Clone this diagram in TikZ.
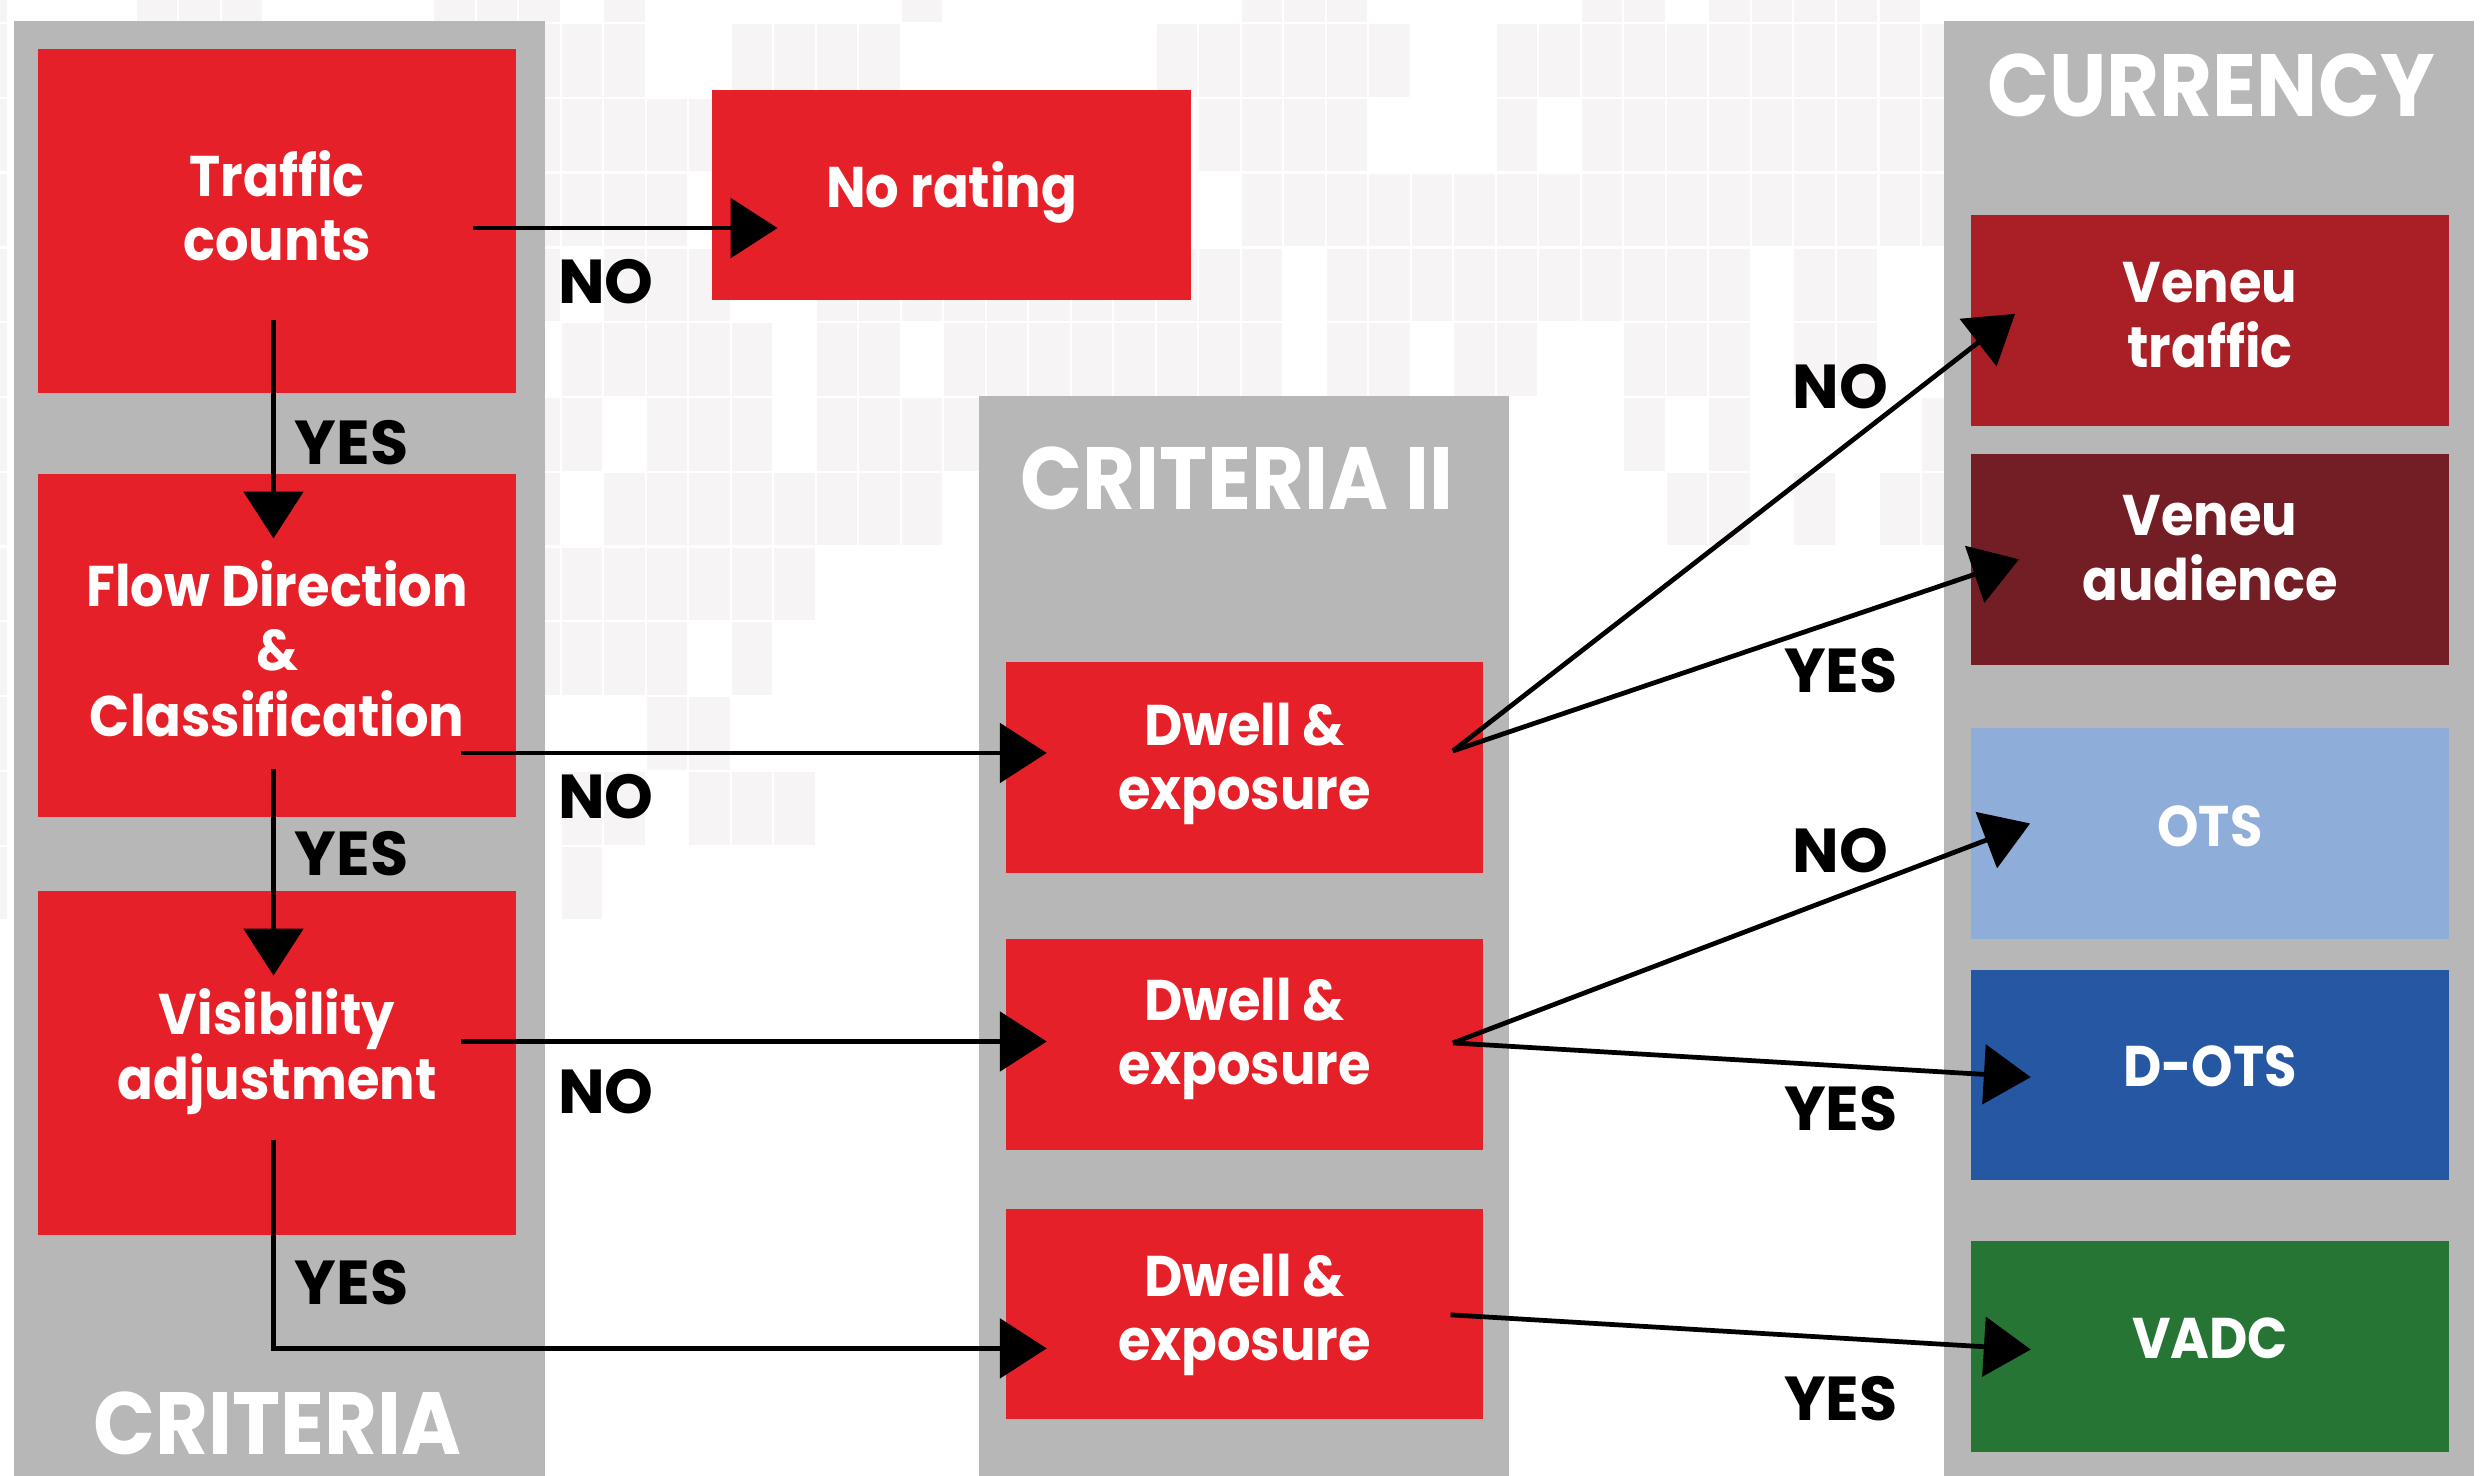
\documentclass[tikz,border=0pt]{standalone}
\usepackage{fontspec}
\setmainfont{Poppins}
\newfontfamily\popnarrow{Poppins}[FakeStretch=0.92]
\usetikzlibrary{arrows.meta,calc,fit}
\definecolor{cellgray}{RGB}{246,244,245}
\definecolor{colgray}{RGB}{183,183,183}
\definecolor{boxred}{RGB}{229,32,40}
\definecolor{vtraffic}{RGB}{170,30,38}
\definecolor{vaud}{RGB}{115,29,37}
\definecolor{otsblue}{RGB}{142,173,217}
\definecolor{dotsblue}{RGB}{38,87,162}
\definecolor{vadcgreen}{RGB}{38,117,53}
\newcommand\myboxfont{\popnarrow\fontsize{18.1pt}{20.2pt}\selectfont\bfseries}
\newcommand\mylblfont{\fontsize{19.6pt}{22pt}\selectfont\bfseries}
\newcommand\myttlfont{\popnarrow\fontsize{27.9pt}{32pt}\selectfont\bfseries}
\newcommand\twol[2]{\begin{tabular}[t]{@{}c@{}}#1\\#2\end{tabular}}
\newcommand\threel[3]{\begin{tabular}[t]{@{}c@{}}#1\\#2\\#3\end{tabular}}
\tikzset{
  bx/.style={inner sep=0pt, outer sep=0pt, draw=none, fill=#1},
  txt/.style={inner sep=0pt, anchor=base, text=white, font=\myboxfont},
  lbl/.style={inner sep=0pt, anchor=base, text=black, font=\mylblfont},
  ttl/.style={inner sep=0pt, anchor=base, text=white, font=\myttlfont, text depth=0pt},
  arr/.style={line width=1.5pt, draw=black, -{Triangle[length=14.8pt,width=18.7pt]}},
}
\begin{document}
\begin{tikzpicture}[x=0.5pt,y=-0.5pt]
\useasboundingbox (0,0) rectangle (1568,932);
\fill[white] (0,0) rectangle (1568,932);
% background pixel pattern
\begin{scope}
\clip (0,0) rectangle (1568,932);
\foreach \r/\cs in {
  0/{-1,3,4,5,10,11,12,14,21,29,30,31,37,38,40,41,42,43,44},
  1/{-1,12,13,14,17,18,19,20,27,28,29,30,31,32,35,36,37,38,39,40,41,42,43,44,45},
  2/{-1,12,13,14,15,16,28,29,30,31,35,37,38,39,40,41,42,43,44,45},
  3/{-1,12,13,14,15,29,30,31,32,33,34,35,36,37,38,39,40,41,42,43,44,45},
  4/{-1,12,14,15,16,19,20,21,22,23,24,25,26,27,28,29,31,32,33,34,35,36,37,38,39,40,42,43},
  5/{-1,13,14,15,16,17,19,20,22,23,24,25,26,27,28,29,31,32,34,35,38,39,40,42,43},
  6/{-1,12,13,15,16,17,19,20,21,22,38,40,45},
  7/{-1,12,14,15,16,17,18,19,20,21,39,40,42,44,45},
  8/{-1,12,13,14,15,16,17,18},
  9/{-1,12,13,14,15,17},
  10/{-1,15,16},
  11/{-1,13,14,16,17,18},
  12/{-1,13}}{
  \foreach \c in \cs {
    \fill[cellgray] ({5.2+26.84*\c+0.72},{-32.7+47.23*\r+0.72}) rectangle ++(25.4,45.8);
  }
}
\end{scope}
% columns
\node[bx=colgray, fit={(9.1,13.5) (344,932)}] (colL) {};
\node[bx=colgray, fit={(618.3,250) (953.2,932)}] (colM) {};
\node[bx=colgray, fit={(1227.8,13.5) (1562.4,932)}] (colR) {};
% boxes
\node[bx=boxred, fit={(24.2,31) (325.8,248.1)}] (tc) {};
\node[bx=boxred, fit={(24.2,299.4) (325.8,516.1)}] (fd) {};
\node[bx=boxred, fit={(24.2,562.6) (325.8,779.7)}] (va) {};
\node[bx=boxred, fit={(449.7,57) (751.8,189.7)}] (nr) {};
\node[bx=boxred, fit={(635.5,418) (936.3,551.2)}] (d1) {};
\node[bx=boxred, fit={(635.5,593) (936.3,725.9)}] (d2) {};
\node[bx=boxred, fit={(635.5,763.4) (936.3,896.2)}] (d3) {};
\node[bx=vtraffic, fit={(1244.7,135.9) (1546.5,268.7)}] (vt) {};
\node[bx=vaud, fit={(1244.7,286.7) (1546.5,420)}] (vau) {};
\node[bx=otsblue, fit={(1244.7,459.8) (1546.5,592.7)}] (ots) {};
\node[bx=dotsblue, fit={(1244.7,612.4) (1546.5,745)}] (dots) {};
\node[bx=vadcgreen, fit={(1244.7,783.7) (1546.5,916.9)}] (vadc) {};
% titles
\node[ttl] (tL) at (175.5,918.8) {CRITERIA};
\node[ttl] (tM) at (781.4,321.8) {CRITERIA II};
\node[ttl] (tR) at (1396.3,73.3) {CURRENCY};
% box texts
\node[txt] (tcT) at (175,124) {\twol{Traffic}{counts}};
\node[txt] (fdT) at (175,383.3) {\threel{Flow Direction}{\&}{Classification}};
\node[txt] (vaT) at (175,653.3) {\twol{Visibility}{adjustment}};
\node[txt] (nrT) at (601,131) {No rating};
\node[txt] (d1T) at (785.9,470.7) {\twol{Dwell \&}{exposure}};
\node[txt] (d2T) at (785.9,644.6) {\twol{Dwell \&}{exposure}};
\node[txt] (d3T) at (785.9,819) {\twol{Dwell \&}{exposure}};
\node[txt] (vtT) at (1395.6,191.1) {\twol{Veneu}{traffic}};
\node[txt] (vauT) at (1395.6,338.2) {\twol{Veneu}{audience}};
\node[txt] (otsT) at (1395.6,534.3) {OTS};
\node[txt] (dotsT) at (1395.6,685.8) {D-OTS};
\node[txt] (vadcT) at (1395.6,857.8) {VADC};
% connectors
\draw[arr] ($(tc.center)+(123.6,4.45)$) -- ($(nr.center)+(-109.75,20.65)$);
\draw[arr] ($(tc.center)+(-2.3,62.45)$) -- ($(fd.center)+(-2.3,-67.75)$);
\draw[arr] ($(fd.center)+(116,67.75)$) -- ($(d1.center)+(-124.9,-9.1)$);
\draw[arr] ($(fd.center)+(-2.3,77.95)$) -- ($(va.center)+(-2.3,-55.15)$);
\draw[arr] ($(va.center)+(116,-13.45)$) -- ($(d2.center)+(-124.9,-1.75)$);
\draw[arr] ($(va.center)+(-2.3,48.45)$) |- ($(d3.center)+(-124.9,21.7)$);
\draw[arr] ($(d1.center)+(131.6,-10.4)$) -- ($(vt.center)+(-123.1,-4.1)$);
\draw[arr] ($(d1.center)+(131.6,-10.4)$) -- ($(vau.center)+(-120.6,-0.15)$);
\draw[arr] ($(d2.center)+(131.6,-0.85)$) -- ($(ots.center)+(-113.6,-6.25)$);
\draw[arr] ($(d2.center)+(131.6,-0.85)$) -- ($(dots.center)+(-113.2,1.5)$);
\draw[arr] ($(d3.center)+(130.1,0.5)$) -- ($(vadc.center)+(-113.2,1.9)$);
% labels
\node[lbl] (n1) at (382.7,191.7) {NO};
\node[lbl] (y1) at (222,293.2) {YES};
\node[lbl] (n2) at (382.7,517) {NO};
\node[lbl] (y2) at (222,553) {YES};
\node[lbl] (n3) at (382.7,703) {NO};
\node[lbl] (y3) at (222,824) {YES};
\node[lbl] (n4) at (1162.3,258) {NO};
\node[lbl] (y4) at (1162.5,437) {YES};
\node[lbl] (n5) at (1162.3,550.8) {NO};
\node[lbl] (y5) at (1162.5,714) {YES};
\node[lbl] (y6) at (1162.5,896.9) {YES};
\end{tikzpicture}
\end{document}
